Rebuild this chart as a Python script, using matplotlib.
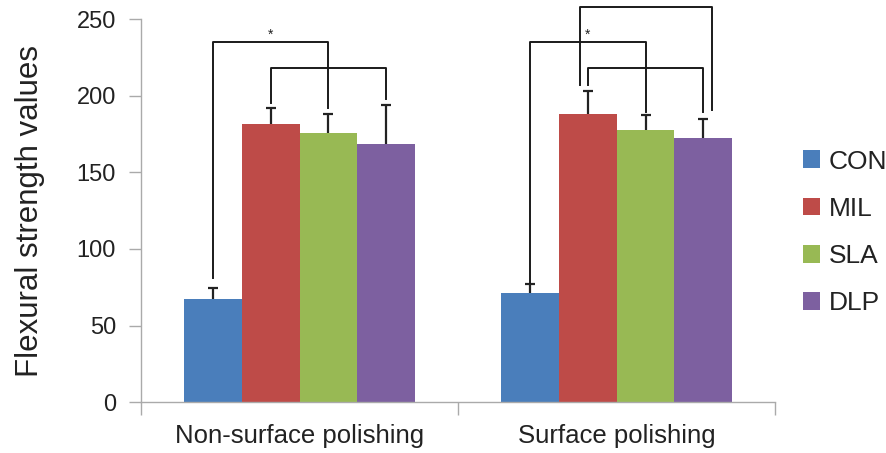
import numpy as np
import matplotlib.pyplot as plt

plt.rcParams['font.family'] = ['Liberation Sans', 'DejaVu Sans']

groups = ["Non-surface polishing", "Surface polishing"]
series = ["CON", "MIL", "SLA", "DLP"]
colors = ["#4A7EBB", "#BE4B48", "#98B954", "#7D60A0"]

con = [67.2, 71.3]
mil = [181.2, 188.0]
sla = [175.4, 177.5]
dlp = [168.2, 172.3]
con_err = [7.2, 5.7]
mil_err = [10.5, 15.2]
sla_err = [12.4, 9.6]
dlp_err = [25.9, 12.7]

means = [con, mil, sla, dlp]
errs = [con_err, mil_err, sla_err, dlp_err]

# brackets: group, left series, right series, height, left leg end, right leg end, x shift, star
brackets = [
    (0, 0, 2, 235, 81.3, 191.8, 0.0, True),
    (0, 1, 3, 218, 195.0, 197.8, 0.0, False),
    (1, 0, 2, 235, 77.6, 189.4, 0.0, True),
    (1, 1, 3, 218, 207.0, 189.6, 0.0, False),
    (1, 1, 3, 258, 207.0, 190.7, 0.026, False),
]

width = 0.182
x = np.arange(len(groups))

fig = plt.figure(figsize=(8.87, 4.53), dpi=100)
ax = fig.add_axes([0.159, 0.112, 0.715, 0.846])

for i, s in enumerate(series):
    pos = x + (i - 1.5) * width
    ax.bar(pos, means[i], width, color=colors[i], label=s, zorder=2)
    eb = ax.errorbar(pos, means[i], yerr=[np.zeros(len(groups)), errs[i]], fmt="none",
                     ecolor="#222222", elinewidth=1.6, capsize=3.5, capthick=1.6, zorder=3)
    eb[1][0].set_visible(False)

for g, a, b, h, ya, yb, dx, star in brackets:
    xa = g + (a - 1.5) * width - dx
    xb = g + (b - 1.5) * width + dx
    ax.plot([xa, xa, xb, xb], [ya, h, h, yb], color="#1a1a1a", lw=1.4,
            clip_on=False, zorder=4)
    if star:
        ax.text((xa + xb) / 2, h + 5, "*", ha="center", va="center",
                fontsize=10, color="#222222")

ax.set_xlim(-0.5, 1.5)
ax.set_ylim(0, 250)
ax.set_yticks([0, 50, 100, 150, 200, 250])
ax.set_xticks(x)
ax.set_xticklabels(groups)
ax.set_xticks([-0.5, 0.5, 1.5], minor=True)
ax.tick_params(axis="x", which="major", length=0, labelsize=18.5, pad=16, colors="#222222")
ax.tick_params(axis="x", which="minor", length=9, color="#aaaaaa", width=1)
ax.tick_params(axis="y", length=9, color="#aaaaaa", width=1, labelsize=17,
               labelcolor="#222222", pad=9)
for side in ["top", "right"]:
    ax.spines[side].set_visible(False)
for side in ["left", "bottom"]:
    ax.spines[side].set_color("#aaaaaa")
    ax.spines[side].set_linewidth(1)

ax.set_ylabel("Flexural strength values", fontsize=22.5, color="#222222", labelpad=23)

fig.legend(loc="center left", bbox_to_anchor=(0.878, 0.487), frameon=False,
           fontsize=19, handlelength=0.65, handleheight=0.65, handletextpad=0.35,
           labelspacing=0.88, labelcolor="#222222")

fig.savefig("out.png", dpi=100)
